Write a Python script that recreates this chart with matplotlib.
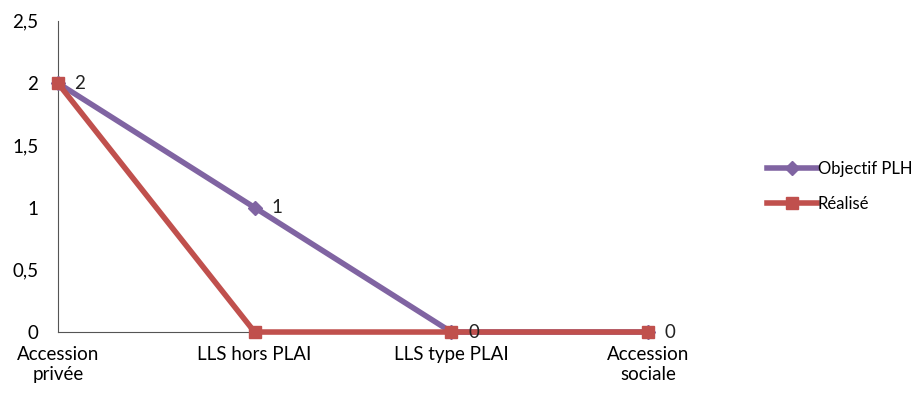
import matplotlib
matplotlib.use("Agg")
import matplotlib.pyplot as plt
from matplotlib.ticker import FuncFormatter

plt.rcParams['font.family'] = ['Lato', 'DejaVu Sans']

categories = ["Accession\nprivée", "LLS hors PLAI", "LLS type PLAI", "Accession\nsociale"]
objectif = [2, 1, 0, 0]
realise = [2, 0, 0, 0]
y_ticks = [0, 0.5, 1, 1.5, 2, 2.5]

fig = plt.figure(figsize=(9.18, 4.01), dpi=100)
ax = fig.add_axes([0.063, 0.172, 0.643, 0.776])
x = list(range(len(categories)))

ax.plot(x, objectif, color='#8064A2', lw=4, marker='D', ms=7, label='Objectif PLH', clip_on=False, zorder=3)
ax.plot(x, realise, color='#C0504D', lw=4, marker='s', ms=9, label='Réalisé', clip_on=False, zorder=4)

for xi, v in zip(x, objectif):
    ax.annotate(str(v), (xi, v), xytext=(12, 0), textcoords='offset points',
                ha='left', va='center', fontsize=13.5, color='#222222', zorder=5)

ax.set_xlim(0, 3)
ax.set_ylim(0, 2.5)
ax.set_yticks(y_ticks)
ax.yaxis.set_major_formatter(FuncFormatter(lambda v, p: f"{v:g}".replace('.', ',')))
ax.set_xticks(x)
ax.set_xticklabels(categories, fontsize=13.5, linespacing=1.25)
ax.tick_params(axis='y', labelsize=13.5, length=0, pad=14)
ax.tick_params(axis='x', length=0, pad=10)
for s in ['top', 'right']:
    ax.spines[s].set_visible(False)
ax.spines['left'].set_color('#555555')
ax.spines['bottom'].set_color('#555555')

fig.legend(loc='center left', bbox_to_anchor=(0.819, 0.535), frameon=False, fontsize=12,
           handlelength=3.0, handletextpad=0.05, labelspacing=1.1)

fig.savefig('out.png', dpi=100)
